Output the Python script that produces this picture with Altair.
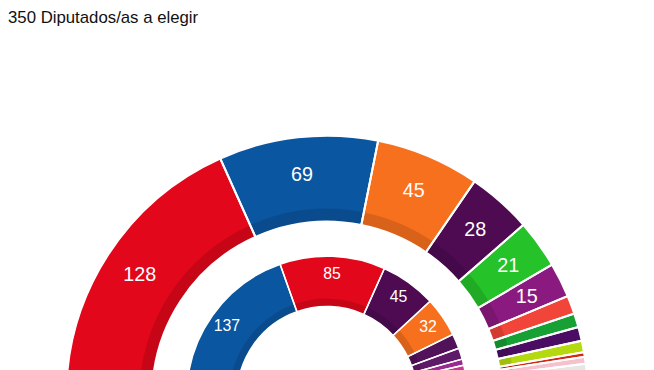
import math
import pandas as pd
import altair as alt

TITLE = "350 Diputados/as a elegir"
TOTAL = 350

# Outer ring (projection)
outer_parties = ["PSOE", "PP", "Cs", "UP", "Vox", "ERC", "Más País", "PNV", "JxCat", "EH Bildu", "CC", "NA+", "Otros"]
outer_seats = [128, 69, 45, 28, 21, 15, 8, 6, 6, 5, 2, 3, 14]
outer_colors = ["#e2071a", "#0b56a1", "#f7701e", "#4e0b52", "#26c22a", "#8b1a80",
                "#f2453a", "#17a034", "#4a0d63", "#b5d90f", "#d52a12", "#f6c0cc", "#e6e6e6"]

# Inner ring (previous results)
inner_parties = ["PP", "PSOE", "UP", "Cs", "ECP", "Compromís", "En Marea", "ERC", "CDC", "PNV", "EH Bildu", "CC"]
inner_seats = [137, 85, 45, 32, 12, 9, 5, 9, 8, 5, 2, 1]
inner_colors = ["#0b56a1", "#e2071a", "#4e0b52", "#f7701e", "#52125a", "#5e1a68", "#9a2a8f",
                "#c13a8c", "#1a2f6e", "#2a8a3a", "#9bc33a", "#f7d117"]

CX, CY = 323, 391  # ring centre in plot coordinates

theta_scale = alt.Scale(domain=[0, TOTAL], range=[1.5 * math.pi, 2.5 * math.pi])


def ring_df(parties, seats, colors, min_label):
    rows = []
    acc = 0
    for p, s, c in zip(parties, seats, colors):
        rows.append({"party": p, "seats": s, "color": c, "start": acc, "end": acc + s,
                     "mid": acc + s / 2, "label": str(s) if s >= min_label else ""})
        acc += s
    return pd.DataFrame(rows)


def ring_layers(df, r_in, r_out, band, sw, label_r, fs):
    base = alt.Chart(df).encode(
        x=alt.value(CX), y=alt.value(CY),
        theta=alt.Theta("start:Q", scale=theta_scale, stack=None),
        theta2="end:Q",
    )
    fill = base.mark_arc(innerRadius=r_in, outerRadius=r_out).encode(
        color=alt.Color("color:N", scale=None)
    )
    shade = base.mark_arc(innerRadius=r_in, outerRadius=r_in + band, fill="black", fillOpacity=0.12)
    edges = base.mark_arc(innerRadius=r_in, outerRadius=r_out, fillOpacity=0,
                          stroke="white", strokeWidth=sw)
    labels = alt.Chart(df[df["label"] != ""]).mark_text(
        radius=label_r, fontSize=fs, color="white", font="Liberation Sans",
        align="center", baseline="middle",
    ).encode(
        x=alt.value(CX), y=alt.value(CY),
        theta=alt.Theta("mid:Q", scale=theta_scale, stack=None),
        text="label:N",
    )
    return [fill, shade, edges, labels]


outer_df = ring_df(outer_parties, outer_seats, outer_colors, 15)
inner_df = ring_df(inner_parties, inner_seats, inner_colors, 30)

title = alt.Chart(pd.DataFrame({"t": [TITLE]})).mark_text(
    align="left", baseline="alphabetic", fontSize=17, font="Liberation Sans", color="#111111"
).encode(x=alt.value(0), y=alt.value(13), text="t:N")

chart = alt.layer(
    title,
    *ring_layers(outer_df, 177, 264, 13, 2, 226, 20),
    *ring_layers(inner_df, 91, 142, 8, 1.5, 124, 16),
).properties(
    width=646, height=362,
    autosize=alt.AutoSizeParams(type="none"),
    padding=0,
).configure_view(stroke=None)

chart.save("out.html", embed_options={"renderer": "svg", "actions": False})
